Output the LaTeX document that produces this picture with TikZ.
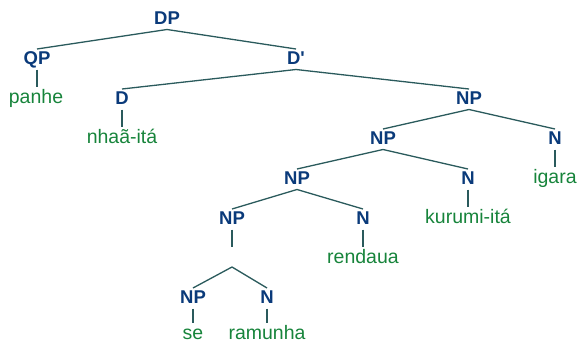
\documentclass[tikz,border=0pt]{standalone}
\usepackage{fontspec}
\setmainfont{Liberation Sans}
% separate family without TeX ligatures, so ' stays a straight prime
\newfontfamily\plainsans{Liberation Sans}
\definecolor{catblue}{HTML}{0A3A7A}
\definecolor{leafgreen}{HTML}{17843B}
\definecolor{branch}{HTML}{2A5A5C}
\tikzset{
  cat/.style={anchor=base, inner sep=0pt, outer sep=2pt, text height=13pt, text depth=3.5pt,
    text=catblue, font=\plainsans\fontsize{18.5}{18.5}\selectfont\bfseries},
  leaf/.style={anchor=base, inner sep=0pt, outer sep=2.5pt, text height=14pt, text depth=0pt,
    text=leafgreen, font=\fontsize{19.5}{19.5}\selectfont},
  gap/.style={inner sep=0pt, outer sep=0pt, minimum height=20pt, minimum width=0pt},
  edge/.style={draw=branch, line width=1.3pt}
}
\begin{document}
\begin{tikzpicture}[x=1pt, y=-1pt]
\useasboundingbox (0,0) rectangle (578,343);
% categories
\node[cat] (dp)   at (167,24)  {DP};
\node[cat] (qp)   at (37,64)   {QP};
\node[cat] (dbar) at (296,64)  {D'};
\node[cat] (d)    at (122,104) {D};
\node[cat] (np1)  at (469,104) {NP};
\node[cat] (np2)  at (383,144) {NP};
\node[cat] (n1)   at (555,144) {N};
\node[cat] (np3)  at (297,184) {NP};
\node[cat] (n2)   at (468,184) {N};
\node[cat] (np4)  at (232,224) {NP};
\node[cat] (n3)   at (363,224) {N};
\node[gap] (e)    at (232,257) {};
\node[cat] (np5)  at (193,303) {NP};
\node[cat] (n4)   at (267,303) {N};
% words
\node[leaf] (w1) at (36,103)  {panhe};
\node[leaf] (w2) at (122,143) {nhaã-itá};
\node[leaf] (w3) at (555,183) {igara};
\node[leaf] (w4) at (468,223) {kurumi-itá};
\node[leaf] (w5) at (363,263) {rendaua};
\node[leaf] (w6) at (193,339) {se};
\node[leaf] (w7) at (267,339) {ramunha};
% branches
\draw[edge] (qp.north) -- (dp.south) -- (dbar.north);
\draw[edge] (d.north) -- (dbar.south) -- (np1.north);
\draw[edge] (np2.north) -- (np1.south) -- (n1.north);
\draw[edge] (np3.north) -- (np2.south) -- (n2.north);
\draw[edge] (np4.north) -- (np3.south) -- (n3.north);
\draw[edge] (np4.south) -- (e.north);
\draw[edge] (np5.north) -- (e.south) -- (n4.north);
% unary branches down to the words, kept vertical
\draw[edge] (qp.south) -- (qp.south |- w1.north);
\draw[edge] (d.south) -- (d.south |- w2.north);
\draw[edge] (n1.south) -- (n1.south |- w3.north);
\draw[edge] (n2.south) -- (n2.south |- w4.north);
\draw[edge] (n3.south) -- (n3.south |- w5.north);
\draw[edge] (np5.south) -- (np5.south |- w6.north);
\draw[edge] (n4.south) -- (n4.south |- w7.north);
\end{tikzpicture}
\end{document}
